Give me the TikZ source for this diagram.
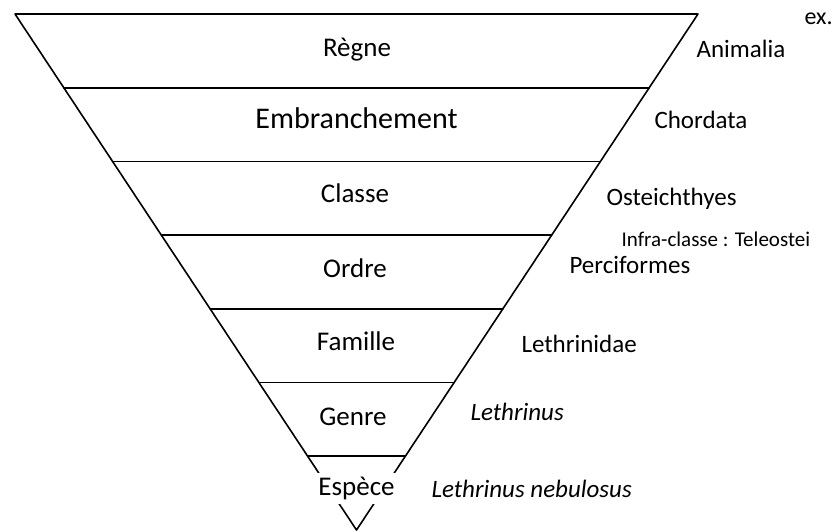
\documentclass[tikz,border=0pt]{standalone}
\usepackage{fontspec}
\setmainfont{Carlito}
\usepackage{tikz}
\usetikzlibrary{positioning,calc}

\begin{document}
\begin{tikzpicture}[
    x=1pt, y=-1pt,
    rank/.style={anchor=base, font=\fontsize{27}{31}\selectfont},
    taxon/.style={anchor=base west, font=\fontsize{25}{30}\selectfont},
    edge/.style={line width=1.6pt, line cap=round, line join=round}
]
    \useasboundingbox (0,0) rectangle (834,531);

    % the inverted triangle
    \coordinate (tl) at (15,14);
    \coordinate (tr) at (698,14);
    \coordinate (apex) at (356.5,530);
    \draw[edge] (tl) -- (tr) -- (apex) -- cycle;
    \foreach \i in {1,...,6}
        \draw[edge] ($(tl)!\i/7!(apex)$) -- ($(tr)!\i/7!(apex)$);

    % ranks
    \node[rank] (regne) at (357,56) {Règne};
    \node[rank, font=\fontsize{30}{34}\selectfont] (embr) at (356.5,128) {Embranchement};
    \node[rank] (classe) at (355,202) {Classe};
    \node[rank] (ordre) at (355,277) {Ordre};
    \node[rank] (famille) at (356,350) {Famille};
    \node[rank] (genre) at (353,425) {Genre};
    \node[fill=white, inner sep=0pt, minimum width=88pt, minimum height=31pt,
          font=\fontsize{27}{31}\selectfont] (espece) at (356.5,488.5) {Espèce};

    % example taxa
    \node[taxon, font=\fontsize{24}{28}\selectfont] (ex) at (801,24) {ex.};
    \node[taxon] (animalia) at (693,57) {Animalia};
    \node[taxon] (chordata) at (651,128) {Chordata};
    \node[taxon] (osteich) at (603,205) {Osteichthyes};
    \node[taxon, font=\fontsize{21}{25}\selectfont] (infra) at (618,246) {Infra-classe : Teleostei};
    \node[taxon] (percif) at (566,273) {Perciformes};
    \node[taxon] (lethrinidae) at (518,352) {Lethrinidae};
    \node[taxon, font=\fontsize{25}{30}\selectfont\itshape] (lethrinus) at (467,420) {Lethrinus};
    \node[taxon, font=\fontsize{25}{30}\selectfont\itshape] (nebulosus) at (428,497) {Lethrinus nebulosus};
\end{tikzpicture}
\end{document}
